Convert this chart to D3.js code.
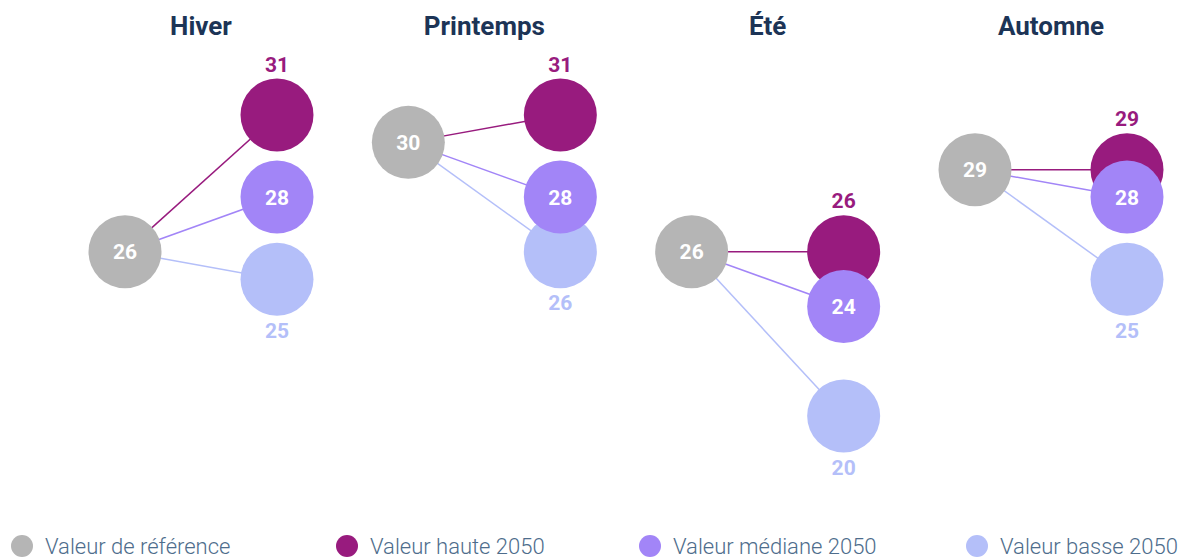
<!DOCTYPE html>
<html>
<head>
<meta charset="utf-8">
<script src="https://cdn.jsdelivr.net/npm/d3@7"></script>
<style>
    body { margin: 0; background: #fff; }
    svg { font-family: Roboto, "Noto Sans", sans-serif; display: block; }
</style>
</head>
<body>
<script>
// saisons et valeurs (jours)
const seasons = ["Hiver", "Printemps", "Été", "Automne"];
const refValues = [26, 30, 26, 29];
const highValues = [31, 31, 26, 29];
const medianValues = [28, 28, 24, 28];
const lowValues = [25, 26, 20, 25];

const legendLabels = ["Valeur de référence", "Valeur haute 2050", "Valeur médiane 2050", "Valeur basse 2050"];
const colors = ["#b5b5b5", "#981b7e", "#a285f7", "#b4bff9"];

const width = 1183, height = 558;
const r = 36.5;

let svg = d3.select("body").append("svg")
    .attr("width", width)
    .attr("height", height);

let x = d3.scalePoint().domain(seasons).range([201, 1051]);
let y = d3.scaleLinear().domain([20, 31]).range([416, 115]);

let rows = seasons.map((s, i) => ({
    season: s,
    ref: refValues[i],
    series: [
        {key: "low", v: lowValues[i], color: colors[3]},
        {key: "high", v: highValues[i], color: colors[1]},
        {key: "median", v: medianValues[i], color: colors[2]}
    ]
}));

let panels = svg.selectAll("g.panel").data(rows)
    .enter().append("g")
    .attr("class", "panel")
    .attr("transform", d => "translate(" + x(d.season) + ",0)");

// titres
panels.append("text")
    .attr("x", 0)
    .attr("y", 35)
    .attr("text-anchor", "middle")
    .attr("font-size", 26)
    .attr("font-weight", "bold")
    .attr("fill", "#1c3456")
    .text(d => d.season);

// lignes
panels.selectAll("line").data(d => d.series.map(s => ({ref: d.ref, ...s})))
    .enter().append("line")
    .attr("x1", -76)
    .attr("y1", d => y(d.ref))
    .attr("x2", 76)
    .attr("y2", d => y(d.v))
    .attr("stroke", d => d.color)
    .attr("stroke-width", 1.5);

// cercle de référence
panels.append("circle")
    .attr("cx", -76)
    .attr("cy", d => y(d.ref))
    .attr("r", r)
    .attr("fill", colors[0]);

panels.append("text")
    .attr("x", -76)
    .attr("y", d => y(d.ref) + 7.5)
    .attr("text-anchor", "middle")
    .attr("font-size", 21)
    .attr("font-weight", "bold")
    .attr("fill", "#fff")
    .text(d => d.ref);

// cercles 2050
panels.selectAll("circle.s").data(d => d.series)
    .enter().append("circle")
    .attr("class", "s")
    .attr("cx", 76)
    .attr("cy", d => y(d.v))
    .attr("r", r)
    .attr("fill", d => d.color);

// étiquettes
panels.selectAll("text.lbl").data(d => d.series)
    .enter().append("text")
    .attr("class", "lbl")
    .attr("x", 76)
    .attr("y", d => {
        if (d.key === "high") return y(d.v) - r - 7;
        if (d.key === "low") return y(d.v) + r + 22;
        return y(d.v) + 7.5;
    })
    .attr("text-anchor", "middle")
    .attr("font-size", 21)
    .attr("font-weight", "bold")
    .attr("fill", d => d.key === "median" ? "#fff" : d.color)
    .text(d => d.v);

// légende
let legendX = [22, 347, 650, 977];
let legend = svg.selectAll("g.legend").data(legendLabels)
    .enter().append("g")
    .attr("class", "legend")
    .attr("transform", (d, i) => "translate(" + legendX[i] + ",546)");

legend.append("circle")
    .attr("r", 11)
    .attr("fill", (d, i) => colors[i]);

legend.append("text")
    .attr("x", 23)
    .attr("y", 8)
    .attr("font-size", 22)
    .attr("font-weight", 300)
    .attr("fill", "#4e6d8c")
    .text(d => d);
</script>
</body>
</html>
